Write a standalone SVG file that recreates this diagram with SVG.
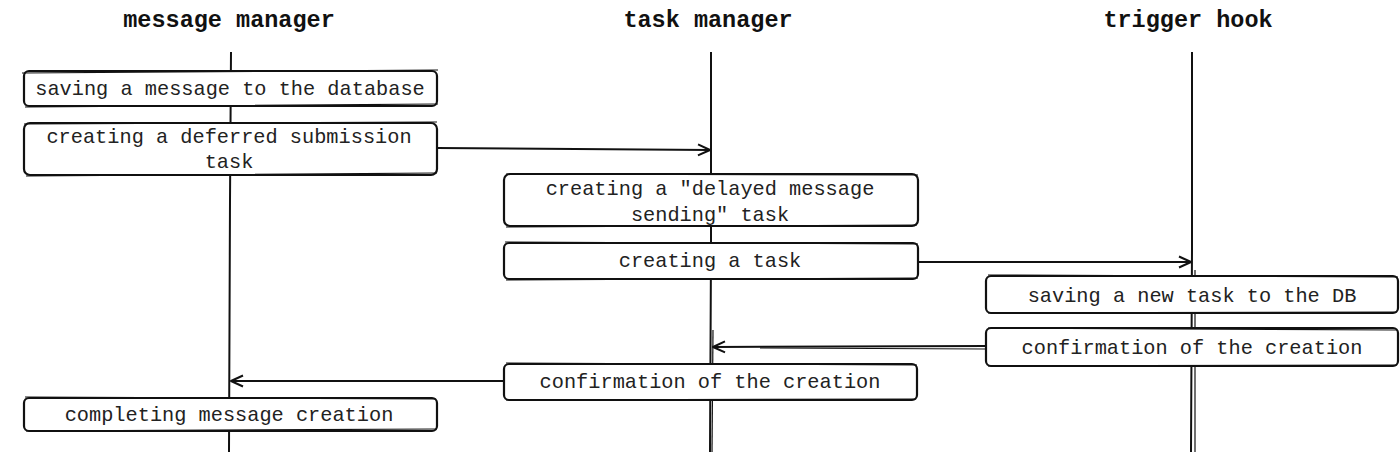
<svg xmlns="http://www.w3.org/2000/svg" width="1400" height="452" viewBox="0 0 1400 452">
<defs>
<marker id="arr" markerWidth="16" markerHeight="14" refX="14" refY="7" orient="auto" markerUnits="userSpaceOnUse">
<path d="M2,1.5 L14,7 L2,12.5" fill="none" stroke="#111" stroke-width="2" stroke-linejoin="round"/>
</marker>
</defs>
<style>
.hdr{font-family:"Liberation Mono","DejaVu Sans Mono",monospace;font-weight:bold;font-size:23.5px;fill:#111;text-anchor:middle}
.lbl{font-family:"Liberation Mono","DejaVu Sans Mono",monospace;font-size:20.3px;fill:#222;text-anchor:middle}
.box{fill:#fff;stroke:#111;stroke-width:2.2}
.sk{fill:none;stroke:#111;stroke-width:1.2}
.life{stroke:#111;stroke-width:2;fill:none}
.conn{stroke:#111;stroke-width:2;fill:none}
</style>
<rect width="1400" height="452" fill="#fff"/>
<g id="headers">
<text class="hdr" x="229" y="27">message manager</text>
<text class="hdr" x="708" y="27">task manager</text>
<text class="hdr" x="1188" y="27">trigger hook</text>
</g>
<g id="lifelines">
<path class="life" d="M231,52 L230,200 L229,452"/>
<path class="life" d="M711,52 L711,250 L710,452"/>
<path class="sk" d="M713,330 L712,452"/>
<path class="life" d="M1192,52 L1192,250 L1191,452"/>
<path class="sk" d="M1195,270 L1195,452"/>
</g>
<g id="connectors">
<path class="conn" d="M437,148 L710,150" marker-end="url(#arr)"/>
<path class="conn" d="M918,262 L1191,262" marker-end="url(#arr)"/>
<path class="conn" d="M986,346 L713,347" marker-end="url(#arr)"/>
<path class="sk" d="M986,349 L760,348"/>
<path class="conn" d="M504,381 L231,381" marker-end="url(#arr)"/>
</g>
<g id="n1">
<rect class="box" x="24" y="71" width="413" height="35" rx="5"/>
<path class="sk" d="M22,73 L438,70 M438,104 L25,107"/>
<text class="lbl" x="230" y="95">saving a message to the database</text>
</g>
<g id="n2">
<rect class="box" x="24" y="123" width="413" height="52" rx="6"/>
<path class="sk" d="M24,124 L437,122 M437,173 L26,176"/>
<text class="lbl" x="229" y="143">creating a deferred submission</text>
<text class="lbl" x="229" y="168">task</text>
</g>
<g id="n3">
<rect class="box" x="504" y="174" width="414" height="52" rx="6"/>
<path class="sk" d="M506,174 L918,175 M917,225 L506,227"/>
<text class="lbl" x="710" y="195">creating a "delayed message</text>
<text class="lbl" x="710" y="221">sending" task</text>
</g>
<g id="n4">
<rect class="box" x="504" y="243" width="414" height="36" rx="5"/>
<path class="sk" d="M505,242 L918,244 M918,278 L506,280"/>
<text class="lbl" x="710" y="267">creating a task</text>
</g>
<g id="n5">
<rect class="box" x="986" y="276" width="412" height="37" rx="5"/>
<path class="sk" d="M988,275 L1398,277 M1397,312 L988,313"/>
<text class="lbl" x="1192" y="302">saving a new task to the DB</text>
</g>
<g id="n6">
<rect class="box" x="986" y="328" width="412" height="38" rx="5"/>
<path class="sk" d="M988,328 L1397,330 M1397,365 L988,366"/>
<text class="lbl" x="1192" y="354">confirmation of the creation</text>
</g>
<g id="n7">
<rect class="box" x="504" y="364" width="413" height="36" rx="5"/>
<path class="sk" d="M506,363 L917,365 M916,399 L506,400"/>
<text class="lbl" x="710" y="388">confirmation of the creation</text>
</g>
<g id="n8">
<rect class="box" x="24" y="398" width="413" height="33" rx="5"/>
<path class="sk" d="M25,397 L436,399 M437,429 L26,431"/>
<text class="lbl" x="229" y="421">completing message creation</text>
</g>
</svg>
